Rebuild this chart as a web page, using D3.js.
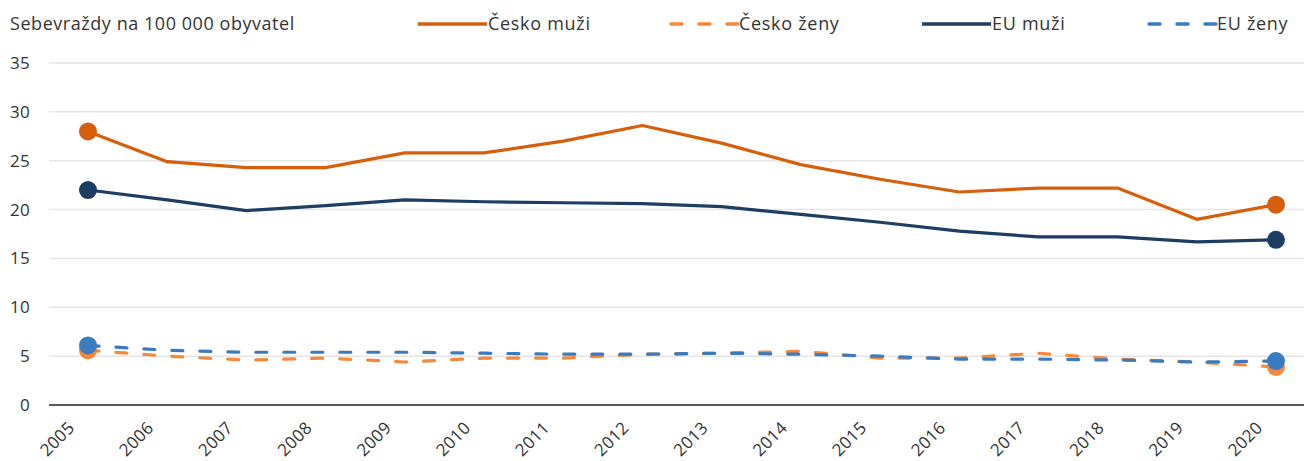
<!DOCTYPE html>
<html>
<head>
<meta charset="utf-8">
<script src="https://cdn.jsdelivr.net/npm/d3@7/dist/d3.min.js"></script>
<style>
  html, body { margin: 0; padding: 0; background: #fff; }
  svg { display: block; }
  text { font-family: "Open Sans", "Noto Sans", sans-serif; fill: #333; }
</style>
</head>
<body>
<svg id="chart" width="1304" height="461"></svg>
<script>
// Years on the horizontal axis
const years = ["2005","2006","2007","2008","2009","2010","2011","2012","2013","2014","2015","2016","2017","2018","2019","2020"];

// Suicides per 100 000 inhabitants
const ceskoMuzi = [28.0, 24.9, 24.3, 24.3, 25.8, 25.8, 27.0, 28.6, 26.8, 24.6, 23.1, 21.8, 22.2, 22.2, 19.0, 20.5];
const ceskoZeny = [5.6, 5.0, 4.6, 4.8, 4.4, 4.8, 4.8, 5.2, 5.3, 5.5, 4.8, 4.8, 5.3, 4.7, 4.4, 3.9];
const euMuzi    = [22.0, 21.0, 19.9, 20.4, 21.0, 20.8, 20.7, 20.6, 20.3, 19.5, 18.7, 17.8, 17.2, 17.2, 16.7, 16.9];
const euZeny    = [6.1, 5.6, 5.4, 5.4, 5.4, 5.3, 5.2, 5.2, 5.3, 5.2, 5.0, 4.7, 4.7, 4.6, 4.4, 4.5];

const yTicks = [0, 5, 10, 15, 20, 25, 30, 35];
const yTitle = "Sebevraždy na 100 000 obyvatel";

const seriesNames = ["Česko muži", "Česko ženy", "EU muži", "EU ženy"];

const svg = d3.select("#chart");

const plot = { left: 49, right: 1304, top: 63, bottom: 405 };

const x = d3.scalePoint().domain(years).range([88, 1276]);
const y = d3.scaleLinear().domain([0, 35]).range([plot.bottom, plot.top]);

const series = [
  { name: seriesNames[0], values: ceskoMuzi, color: "#d65f0c", dash: null },
  { name: seriesNames[1], values: ceskoZeny, color: "#f5883a", dash: "11,17" },
  { name: seriesNames[2], values: euMuzi,    color: "#1e3d62", dash: null },
  { name: seriesNames[3], values: euZeny,    color: "#3a7bc0", dash: "11,17" }
];

const fontFamily = "'Open Sans', 'Noto Sans', sans-serif";

// Horizontal gridlines
svg.append("g")
  .selectAll("line")
  .data(yTicks.filter(d => d > 0))
  .join("line")
  .attr("x1", plot.left).attr("x2", plot.right)
  .attr("y1", d => y(d)).attr("y2", d => y(d))
  .attr("stroke", "#e5e5e5").attr("stroke-width", 1.5);

// Y axis labels
const yAxis = d3.axisLeft(y).tickValues(yTicks).tickSize(0).tickPadding(0).tickFormat(d3.format("d"));
const gy = svg.append("g").attr("transform", "translate(30,0)").call(yAxis);
gy.select(".domain").remove();
gy.selectAll("text")
  .attr("font-size", 17).attr("fill", "#333")
  .attr("letter-spacing", 0.3)
  .style("font-family", fontFamily);

// X axis
const xAxis = d3.axisBottom(x).tickSize(0).tickPadding(0);
const gx = svg.append("g").attr("transform", `translate(0,${plot.bottom})`).call(xAxis);
gx.select(".domain").remove();
gx.selectAll("text")
  .attr("font-size", 17).attr("fill", "#333")
  .attr("letter-spacing", 0.3)
  .style("font-family", fontFamily)
  .attr("text-anchor", "end")
  .attr("dy", "0")
  .attr("transform", "translate(-13,24) rotate(-45)");

svg.append("line")
  .attr("x1", plot.left).attr("x2", plot.right)
  .attr("y1", plot.bottom).attr("y2", plot.bottom)
  .attr("stroke", "#222").attr("stroke-width", 1.5);

// Lines
const line = d3.line()
  .x((d, i) => x(years[i]))
  .y(d => y(d));

series.forEach(s => {
  const g = svg.append("g");
  g.append("path")
    .datum(s.values)
    .attr("d", line)
    .attr("fill", "none")
    .attr("stroke", s.color)
    .attr("stroke-width", 3.2)
    .attr("stroke-linejoin", "round")
    .attr("stroke-linecap", s.dash ? "round" : "butt")
    .attr("stroke-dasharray", s.dash);
  // Endpoint markers
  const ends = [0, s.values.length - 1];
  g.selectAll("circle")
    .data(ends)
    .join("circle")
    .attr("cx", i => x(years[i]))
    .attr("cy", i => y(s.values[i]))
    .attr("r", 9)
    .attr("fill", s.color);
});

// Title
svg.append("text")
  .attr("x", 10).attr("y", 30)
  .attr("font-size", 18)
  .attr("letter-spacing", 0.55)
  .text(yTitle);

// Legend
const legendPos = [418, 669, 922, 1147];
const legend = svg.append("g");
series.forEach((s, i) => {
  const lg = legend.append("g").attr("transform", `translate(${legendPos[i]},24)`);
  lg.append("line")
    .attr("x1", s.dash ? 2 : 0).attr("x2", 69)
    .attr("y1", 0).attr("y2", 0)
    .attr("stroke", s.color)
    .attr("stroke-width", 3.5)
    .attr("stroke-linecap", s.dash ? "round" : "butt")
    .attr("stroke-dasharray", s.dash ? "11,17" : null);
  lg.append("text")
    .attr("x", 70).attr("y", 6)
    .attr("font-size", 18)
    .attr("letter-spacing", 0.7)
    .text(s.name);
});
</script>
</body>
</html>
